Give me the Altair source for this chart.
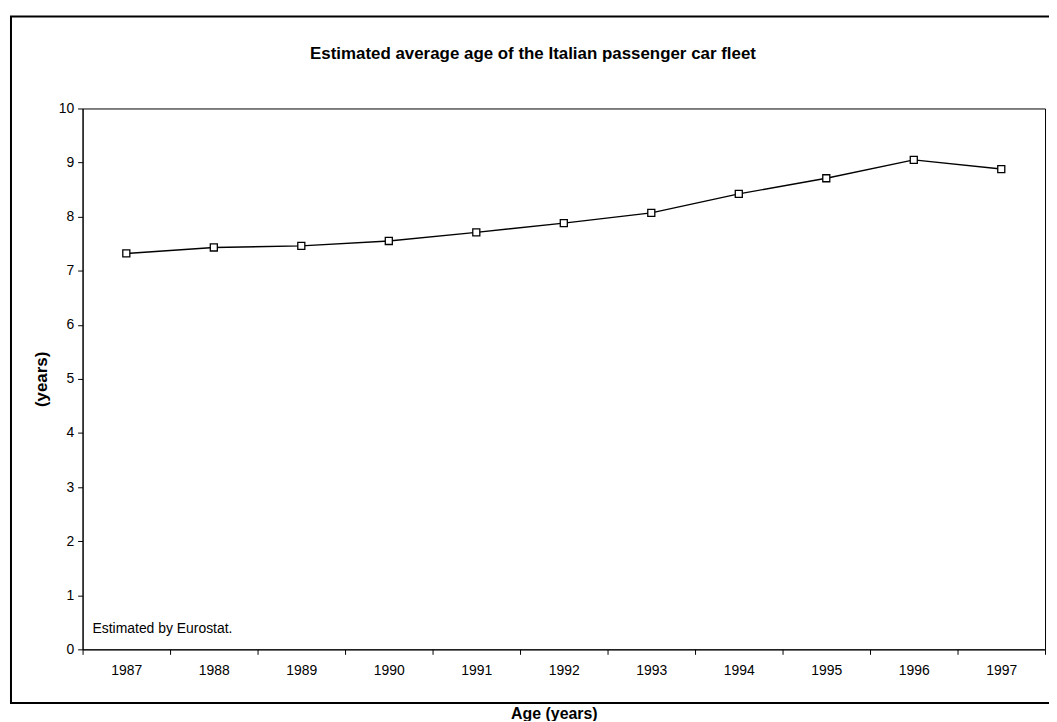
import altair as alt
import pandas as pd

years = ["1987", "1988", "1989", "1990", "1991", "1992", "1993", "1994", "1995", "1996", "1997"]
avg_age = [7.32, 7.43, 7.46, 7.55, 7.71, 7.88, 8.07, 8.42, 8.71, 9.05, 8.88]
y_ticks = [0, 1, 2, 3, 4, 5, 6, 7, 8, 9, 10]
note = "Estimated by Eurostat."
title_text = "Estimated average age of the Italian passenger car fleet"

df = pd.DataFrame({"year": years, "age": avg_age})

FONT = "Liberation Sans"
W, H = 968, 544

x_enc = alt.X(
    "year:O",
    bandPosition=0.5,
    scale=alt.Scale(type="band", domain=years, paddingInner=0, paddingOuter=0),
    axis=alt.Axis(
        title="Age (years)",
        titleFont=FONT, titleFontSize=16, titleFontWeight="bold", titleColor="black",
        titlePadding=29, titleX=474, titleAlign="center",
        labelFont=FONT, labelFontSize=14, labelColor="black", labelAngle=0,
        labelPadding=9,
        tickBand="extent", tickSize=5, tickColor="black",
        domainColor="black", grid=False,
    ),
)
y_enc = alt.Y(
    "age:Q",
    scale=alt.Scale(domain=[0, 10], nice=False, zero=True),
    axis=alt.Axis(
        title="(years)",
        titleFont=FONT, titleFontSize=17, titleFontWeight="bold", titleColor="black",
        titlePadding=8,
        values=y_ticks, format="d",
        labelFont=FONT, labelFontSize=14, labelColor="black", labelPadding=4,
        tickSize=5, tickColor="black", domainColor="black", grid=False,
    ),
)

base = alt.Chart(df)

line = base.mark_line(color="black", strokeWidth=1.4).encode(x=x_enc, y=y_enc)
pts = base.mark_point(shape="square", size=50, filled=True, fill="white",
                      stroke="black", strokeWidth=1.3, opacity=1).encode(x=x_enc, y=y_enc)

border = alt.Chart(alt.Data(values=[{"k": 1}])).mark_rect(
    fill=None, fillOpacity=0, stroke="black", strokeWidth=2, clip=False
).encode(
    x=alt.value(-72), x2=alt.value(990), y=alt.value(-92.5), y2=alt.value(598)
)

ttl = alt.Chart(alt.Data(values=[{"t": title_text}])).mark_text(
    align="center", baseline="middle", font=FONT, fontSize=17, fontWeight="bold", color="black"
).encode(text="t:N", x=alt.value(453), y=alt.value(-55))

ann = alt.Chart(alt.Data(values=[{"t": note}])).mark_text(
    align="left", baseline="middle", font=FONT, fontSize=14, color="black"
).encode(text="t:N", x=alt.value(10), y=alt.value(524))

chart = alt.layer(border, line, pts, ttl, ann).properties(
    width=W, height=H,
    background="white",
    autosize=alt.AutoSizeParams(type="none"),
    padding={"left": 75, "top": 99, "right": 4, "bottom": 70},
).configure_view(stroke="black", strokeWidth=1)

chart.save("out.html", embed_options={"renderer": "svg", "actions": False})
